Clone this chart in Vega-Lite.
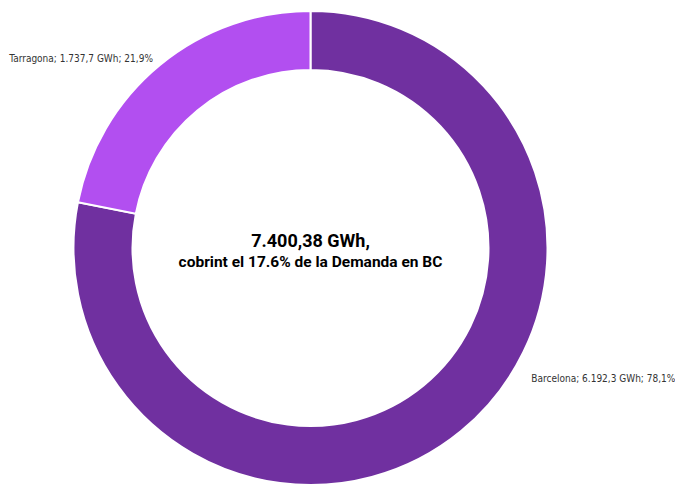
{
  "$schema": "https://vega.github.io/schema/vega-lite/v6.json",
  "autosize": {"type": "none"},
  "width": 621,
  "height": 490,
  "padding": {"left": 0, "top": 3, "right": 54, "bottom": 0},
  "background": "white",
  "data": {
    "values": [
      {"name": "Barcelona", "value": 6192.3, "label": "Barcelona; 6.192,3 GWh; 78,1%"},
      {"name": "Tarragona", "value": 1737.7, "label": "Tarragona; 1.737,7 GWh; 21,9%"}
    ]
  },
  "encoding": {
    "theta": {"field": "value", "type": "quantitative", "stack": true},
    "order": {"field": "name", "sort": "ascending"}
  },
  "layer": [
    {
      "mark": {"type": "arc", "outerRadius": 237, "innerRadius": 178, "stroke": "white", "strokeWidth": 2},
      "encoding": {
        "color": {
          "field": "name", "type": "nominal",
          "scale": {"domain": ["Barcelona", "Tarragona"], "range": ["#7030A0", "#B24FF0"]},
          "legend": null
        }
      }
    },
    {
      "mark": {"type": "text", "radius": 248, "align": "right", "baseline": "middle", "dy": 3, "font": "DejaVu Sans Condensed, Roboto", "fontSize": 10, "fontWeight": 500, "color": "#333333"},
      "encoding": {
        "text": {"condition": {"test": "datum.name == 'Tarragona'", "field": "label"}, "value": ""}
      }
    },
    {
      "mark": {"type": "text", "radius": 250, "align": "left", "baseline": "middle", "dx": 62, "dy": -62, "font": "DejaVu Sans Condensed, Roboto", "fontSize": 10, "fontWeight": 500, "color": "#333333"},
      "encoding": {
        "text": {"condition": {"test": "datum.name == 'Barcelona'", "field": "label"}, "value": ""}
      }
    },
    {
      "data": {"values": [{"t": "7.400,38 GWh,"}]},
      "mark": {"type": "text", "align": "center", "baseline": "alphabetic", "dy": -1, "font": "Roboto", "fontWeight": "bold", "fontSize": 18, "color": "#000000"},
      "encoding": {"text": {"field": "t"}, "theta": null, "order": null}
    },
    {
      "data": {"values": [{"t": "cobrint el 17.6% de la Demanda en BC"}]},
      "mark": {"type": "text", "align": "center", "baseline": "alphabetic", "dy": 19, "font": "Roboto", "fontWeight": "bold", "fontSize": 15.5, "color": "#000000"},
      "encoding": {"text": {"field": "t"}, "theta": null, "order": null}
    }
  ]
}
